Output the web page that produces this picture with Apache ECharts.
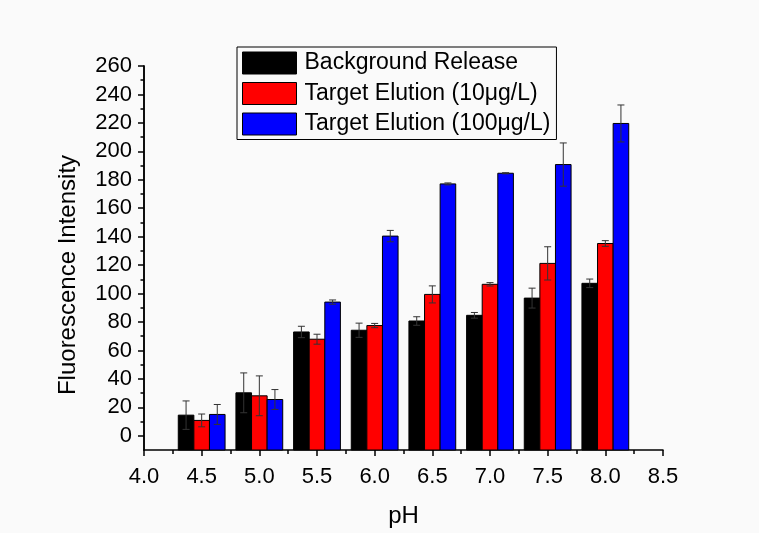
<!DOCTYPE html>
<html>
<head>
<meta charset="utf-8">
<script src="https://cdn.jsdelivr.net/npm/echarts@6/dist/echarts.min.js"></script>
<style>
  html, body { margin: 0; padding: 0; background: #fafafa; }
  #main { width: 759px; height: 533px; }
</style>
</head>
<body>
<div id="main"></div>
<script>
// pH 分组
var ph = [4.5, 5.0, 5.5, 6.0, 6.5, 7.0, 7.5, 8.0];
// 各组数据和误差
var background = [14.5, 30.2, 73, 74.2, 80.7, 84.7, 96.8, 107.2];
var backgroundErr = [10, 14, 4, 5, 3, 2, 7, 3];
var elution10 = [10.8, 28.1, 67.9, 77.5, 99.4, 106.5, 121.2, 135.2];
var elution10Err = [4.5, 14, 3.5, 1.5, 6, 1.2, 11.7, 2];
var elution100 = [15, 25.5, 94, 140.4, 177.1, 184.6, 190.7, 219.6];
var elution100Err = [7, 7, 1.5, 4, 0.7, 0.4, 15.2, 13];
var seriesNames = ['Background Release', 'Target Elution (10\u03bcg/L)', 'Target Elution (100\u03bcg/L)'];
var yMajor = [0, 20, 40, 60, 80, 100, 120, 140, 160, 180, 200, 220, 240, 260];
var yMinor = [10, 30, 50, 70, 90, 110, 130, 150, 170, 190, 210, 230, 250];

var FONT = "'Liberation Sans', Arial, sans-serif";
var Y_MIN = -10;
var BAR_W = 15.6;
var colors = ['#000000', '#ff0000', '#0000ff'];
var values = [background, elution10, elution100];
var errors = [backgroundErr, elution10Err, elution100Err];

var myChart = echarts.init(document.getElementById('main'));

// 柱子从坐标轴底部画起，再叠加误差线
function makeRender(offset) {
    return function (params, api) {
        var base = api.coord([api.value(0), Y_MIN]);
        var top = api.coord([api.value(0), api.value(1)]);
        var lo = api.coord([api.value(0), api.value(2)]);
        var hi = api.coord([api.value(0), api.value(3)]);
        var x = base[0] + offset;
        var errStyle = { stroke: '#333', lineWidth: 1 };
        return {
            type: 'group',
            children: [
                {
                    type: 'rect',
                    shape: { x: x - BAR_W / 2, y: top[1], width: BAR_W, height: base[1] - top[1] },
                    style: { fill: api.visual('color'), stroke: '#000', lineWidth: 1 }
                },
                { type: 'line', shape: { x1: x, y1: lo[1], x2: x, y2: hi[1] }, style: errStyle },
                { type: 'line', shape: { x1: x - 3.5, y1: hi[1], x2: x + 3.5, y2: hi[1] }, style: errStyle },
                { type: 'line', shape: { x1: x - 3.5, y1: lo[1], x2: x + 3.5, y2: lo[1] }, style: errStyle }
            ]
        };
    };
}

var seriesArray = [];
var idx, k;
for (k = 0; k < 3; k++) {
    var data = [];
    for (idx = 0; idx < ph.length; idx++) {
        data.push([ph[idx], values[k][idx], values[k][idx] - errors[k][idx], values[k][idx] + errors[k][idx]]);
    }
    seriesArray.push({
        name: seriesNames[k],
        type: 'custom',
        data: data,
        encode: { x: 0, y: [1, 2, 3] },
        itemStyle: { color: colors[k] },
        renderItem: makeRender((k - 1) * BAR_W),
        z: 2 + k
    });
}

var option = {
    backgroundColor: '#fafafa',
    animation: false,
    textStyle: { fontFamily: FONT },
    grid: { left: 144, right: 96, top: 66, bottom: 81 },
    legend: {
        data: seriesNames,
        orient: 'vertical',
        left: 237,
        top: 47,
        padding: [4.5, 6, 4, 5],
        itemGap: 7.5,
        itemWidth: 54,
        itemHeight: 22,
        icon: 'rect',
        borderColor: '#000',
        borderWidth: 1,
        itemStyle: { borderColor: '#000', borderWidth: 1 },
        textStyle: { fontSize: 23, color: '#000', fontFamily: FONT, padding: [0, 0, 0, 3] }
    },
    xAxis: {
        type: 'value',
        min: 4,
        max: 8.5,
        interval: 0.5,
        name: 'pH',
        nameLocation: 'middle',
        nameGap: 54,
        nameTextStyle: { fontSize: 24, color: '#000', fontFamily: FONT },
        axisLine: { onZero: false, lineStyle: { color: '#000', width: 1.5 } },
        axisTick: { length: 6, lineStyle: { color: '#000', width: 1.5 } },
        minorTick: { show: true, splitNumber: 2, length: 4, lineStyle: { color: '#000', width: 1.5 } },
        axisLabel: {
            fontSize: 22, color: '#000', fontFamily: FONT, margin: 16,
            formatter: function (v) { return v.toFixed(1); }
        },
        splitLine: { show: false }
    },
    yAxis: [{
        type: 'value',
        min: Y_MIN,
        max: 260,
        interval: 10,
        axisLine: { show: true, onZero: false, lineStyle: { color: '#000', width: 1.5 } },
        axisTick: { show: true, length: 6, customValues: yMajor, lineStyle: { color: '#000', width: 1.5 } },
        axisLabel: { fontSize: 22, color: '#000', fontFamily: FONT, margin: 12, customValues: yMajor },
        splitLine: { show: false }
    }, {
        type: 'value',
        min: Y_MIN,
        max: 260,
        interval: 10,
        position: 'left',
        axisLine: { show: true, onZero: false, lineStyle: { color: '#000', width: 1.5 } },
        axisTick: { show: true, length: 3.5, customValues: yMinor, lineStyle: { color: '#000', width: 1.5 } },
        axisLabel: { show: false },
        splitLine: { show: false }
    }],
    graphic: [{
        type: 'text',
        x: 68,
        y: 275,
        rotation: Math.PI / 2,
        style: {
            text: 'Fluorescence Intensity',
            fill: '#000',
            font: '24px ' + FONT,
            align: 'center',
            verticalAlign: 'middle'
        }
    }],
    series: seriesArray
};
myChart.setOption(option);
</script>
</body>
</html>
